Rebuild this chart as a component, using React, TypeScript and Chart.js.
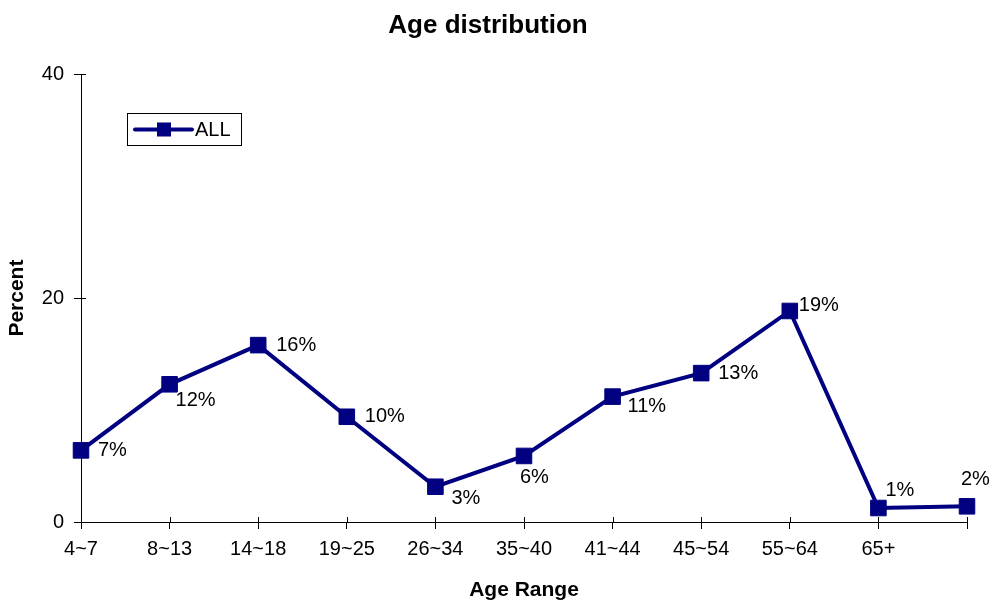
import React, { useEffect, useRef } from "react";
import { Chart, registerables } from "chart.js";

Chart.register(...registerables);

const categories = ["4~7", "8~13", "14~18", "19~25", "26~34", "35~40", "41~44", "45~54", "55~64", "65+", ""];
const allValues = [6.4, 12.3, 15.8, 9.4, 3.15, 5.9, 11.2, 13.3, 18.85, 1.25, 1.4];
const valueLabels = ["7%", "12%", "16%", "10%", "3%", "6%", "11%", "13%", "19%", "1%", "2%"];
const yTicks = [0, 20, 40];
const seriesName = "ALL";
const chartTitle = "Age distribution";
const xTitle = "Age Range";
const yTitle = "Percent";

const FONT = "'Liberation Sans', Arial, sans-serif";
const NAVY = "#000080";

// label placement relative to each point: [dx to text left edge, dy to text middle]
const labelOffsets: [number, number][] = [
  [17, 0], [6, 16], [18, 0], [18, 0], [16, 12], [-4, 22], [15, 10], [17, 0], [9, -5], [7, -18], [-6, -27],
];

const decorPlugin = {
  id: "decor",
  afterDraw(chart: any) {
    const ctx = chart.ctx;
    const xs = chart.scales.x;
    const ys = chart.scales.y;
    const area = chart.chartArea;
    ctx.save();
    // inner parts of tick marks (crossing the axes)
    ctx.strokeStyle = "#000";
    ctx.lineWidth = 1;
    xs.ticks.forEach((_t: any, i: number) => {
      const px = Math.round(xs.getPixelForTick(i)) + 0.5;
      ctx.beginPath();
      ctx.moveTo(px, area.bottom - 5);
      ctx.lineTo(px, area.bottom);
      ctx.stroke();
    });
    ys.ticks.forEach((_t: any, i: number) => {
      const py = Math.round(ys.getPixelForTick(i)) + 0.5;
      ctx.beginPath();
      ctx.moveTo(area.left, py);
      ctx.lineTo(area.left + 5, py);
      ctx.stroke();
    });

    // data labels
    const meta = chart.getDatasetMeta(0);
    ctx.fillStyle = "#000";
    ctx.font = `20px ${FONT}`;
    ctx.textAlign = "left";
    ctx.textBaseline = "middle";
    meta.data.forEach((pt: any, i: number) => {
      const off = labelOffsets[i] || [10, 0];
      ctx.fillText(valueLabels[i], pt.x + off[0], pt.y + off[1]);
    });

    // legend box
    const bx = 127.5, by = 113.5, bw = 114, bh = 32;
    ctx.fillStyle = "#fff";
    ctx.fillRect(bx, by, bw, bh);
    ctx.strokeStyle = "#000";
    ctx.lineWidth = 1;
    ctx.strokeRect(bx, by, bw, bh);
    const cy = by + bh / 2;
    ctx.strokeStyle = NAVY;
    ctx.lineWidth = 4;
    ctx.lineCap = "round";
    ctx.beginPath();
    ctx.moveTo(135, cy);
    ctx.lineTo(192, cy);
    ctx.stroke();
    ctx.fillStyle = NAVY;
    ctx.fillRect(157, cy - 7, 14, 14);
    ctx.fillStyle = "#000";
    ctx.font = `20px ${FONT}`;
    ctx.textAlign = "left";
    ctx.textBaseline = "middle";
    ctx.fillText(seriesName, 195, cy + 1);
    ctx.restore();
  },
};

export default function App() {
  const ref = useRef<HTMLCanvasElement | null>(null);

  useEffect(() => {
    if (!ref.current) return;
    Chart.defaults.color = "#000";
    Chart.defaults.font.family = FONT;
    const chart = new Chart(ref.current, {
      type: "line",
      data: {
        labels: categories,
        datasets: [
          {
            label: seriesName,
            data: allValues,
            borderColor: NAVY,
            backgroundColor: NAVY,
            borderWidth: 4,
            pointStyle: "rect",
            pointRadius: 11,
            pointBorderWidth: 1,
            pointBorderColor: NAVY,
            pointBackgroundColor: NAVY,
            tension: 0,
            fill: false,
          },
        ],
      },
      options: {
        animation: false,
        responsive: false,
        devicePixelRatio: 1,
        layout: { padding: { left: 9, right: 26, top: 0, bottom: 0 } },
        plugins: {
          legend: { display: false },
          tooltip: { enabled: false },
          title: {
            display: true,
            text: chartTitle,
            color: "#000",
            font: { size: 26, weight: "bold", family: FONT, lineHeight: 1.2 },
            padding: { top: 10, bottom: 33 },
          },
        },
        scales: {
          x: {
            type: "category",
            offset: false,
            afterFit: (s: any) => {
              s.height = 80;
            },
            grid: {
              display: true,
              drawOnChartArea: false,
              drawTicks: true,
              tickLength: 7,
              color: "#000",
              lineWidth: 1,
            },
            border: { display: true, color: "#000", width: 1 },
            ticks: {
              color: "#000",
              font: { size: 20, family: FONT },
              padding: 8,
              maxRotation: 0,
              autoSkip: false,
            },
            title: {
              display: true,
              text: xTitle,
              color: "#000",
              font: { size: 21, weight: "bold", family: FONT, lineHeight: 1.2 },
              padding: { top: 0, bottom: -1 },
            },
          },
          y: {
            type: "linear",
            min: yTicks[0],
            max: yTicks[yTicks.length - 1],
            afterFit: (s: any) => {
              s.width = 72;
            },
            afterBuildTicks: (s: any) => {
              s.ticks = yTicks.map((v) => ({ value: v }));
            },
            grid: {
              display: true,
              drawOnChartArea: false,
              drawTicks: true,
              tickLength: 7,
              color: "#000",
              lineWidth: 1,
            },
            border: { display: true, color: "#000", width: 1 },
            ticks: {
              color: "#000",
              font: { size: 20, family: FONT },
              padding: 10,
            },
            title: {
              display: true,
              text: yTitle,
              color: "#000",
              font: { size: 21, weight: "bold", family: FONT, lineHeight: 1.2 },
              padding: { top: -4, bottom: 0 },
            },
          },
        },
      },
      plugins: [decorPlugin],
    });
    return () => chart.destroy();
  }, []);

  return (
    <div style={{ position: "absolute", left: 0, top: 0, width: 993, height: 602, background: "#fff" }}>
      <canvas ref={ref} width={993} height={602} style={{ display: "block" }} />
    </div>
  );
}
